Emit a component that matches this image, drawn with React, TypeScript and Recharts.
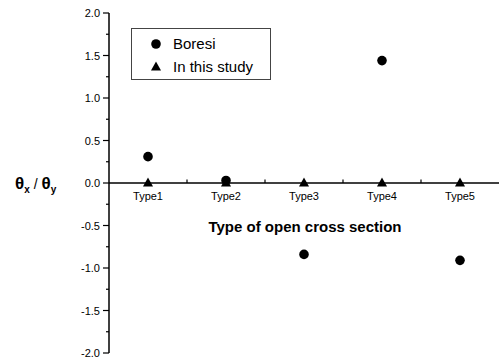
import {
  ScatterChart,
  Scatter,
  XAxis,
  YAxis,
  ReferenceLine,
  Legend,
  LabelList,
} from 'recharts';

const categories = ['Type1', 'Type2', 'Type3', 'Type4', 'Type5'];
const boresiValues = [0.31, 0.03, -0.84, 1.44, -0.91];
const studyValues = [0, 0, 0, 0, 0];
const yTicks = [-2, -1.75, -1.5, -1.25, -1, -0.75, -0.5, -0.25, 0, 0.25, 0.5, 0.75, 1, 1.25, 1.5, 1.75, 2];
const xMinorTicks = [1.5, 2.5, 3.5, 4.5];

const FONT = '"Liberation Sans", Arial, Helvetica, sans-serif';

const boresiData = categories.map((name, i) => ({ x: i + 1, y: boresiValues[i], name }));
const studyData = categories.map((name, i) => ({ x: i + 1, y: studyValues[i], name }));

const CircleShape = (props: any) => <circle cx={props.cx} cy={props.cy} r={4.8} fill="#000" />;

const TriangleShape = (props: any) => {
  const { cx, cy } = props;
  return <polygon points={`${cx},${cy - 5.5} ${cx - 5},${cy + 3.5} ${cx + 5},${cy + 3.5}`} fill="#000" />;
};

const YTick = (props: any) => {
  const { x, y, payload } = props;
  const axisX = x + 9;
  const major = Math.abs(payload.value * 2 - Math.round(payload.value * 2)) < 1e-6;
  return (
    <g>
      <line x1={axisX - (major ? 6 : 3)} x2={axisX} y1={y} y2={y} stroke="#000" strokeWidth={1.2} />
      {major && (
        <text x={x} y={y} dy={4} textAnchor="end" fontSize={11} fontFamily={FONT} fill="#000">
          {payload.value.toFixed(1)}
        </text>
      )}
    </g>
  );
};

const CategoryLabel = (props: any) => {
  const vb = props.viewBox ?? props;
  const cx = vb.x + (vb.width ?? 0) / 2;
  const cy = vb.y + (vb.height ?? 0) / 2;
  return (
    <text x={cx} y={cy + 17} textAnchor="middle" fontSize={11} fontFamily={FONT} fill="#000">
      {props.value}
    </text>
  );
};

const YLabel = (props: any) => {
  const vb = props.viewBox;
  const y = vb.y + vb.height / 2 + 6;
  return (
    <text x={15} y={y} fontFamily={FONT} fontWeight="bold" fill="#000">
      <tspan fontSize={17}>θ</tspan>
      <tspan fontSize={10} dy={4}>x</tspan>
      <tspan fontSize={14} fontWeight="normal" dy={-4}> / </tspan>
      <tspan fontSize={17}>θ</tspan>
      <tspan fontSize={10} dy={4}>y</tspan>
    </text>
  );
};

const XTitle = (props: any) => {
  const vb = props.viewBox;
  return (
    <text
      x={vb.x + vb.width / 2 + 1}
      y={vb.y + 49}
      textAnchor="middle"
      fontSize={15}
      fontWeight="bold"
      fontFamily={FONT}
      fill="#000"
    >
      Type of open cross section
    </text>
  );
};

const LegendBox = (props: any) => {
  const items = props.payload ?? [];
  return (
    <div
      style={{
        border: '1px solid #444',
        width: 140,
        height: 52,
        boxSizing: 'border-box',
        padding: '3px 0 0 18px',
        fontFamily: FONT,
        fontSize: 15,
        color: '#000',
        background: '#fff',
      }}
    >
      {items.map((item: any) => (
        <div key={item.value} style={{ display: 'flex', alignItems: 'center', height: 23 }}>
          <svg width={14} height={14} style={{ marginRight: 9 }}>
            {item.value === 'Boresi' ? (
              <circle cx={6} cy={7} r={4.8} fill="#000" />
            ) : (
              <polygon points="6,1.5 1,10.5 11,10.5" fill="#000" />
            )}
          </svg>
          <span>{item.value}</span>
        </div>
      ))}
    </div>
  );
};

export default function App() {
  return (
    <div style={{ position: 'absolute', left: 0, top: 0, background: '#fff' }}>
      <ScatterChart width={499} height={363} margin={{ top: 13, right: 0, bottom: 10, left: 0 }}>
        <XAxis type="number" dataKey="x" domain={[0.5, 5.5]} hide />
        <YAxis
          type="number"
          dataKey="y"
          domain={[-2, 2]}
          ticks={yTicks}
          interval={0}
          width={109}
          tickSize={6}
          tickMargin={3}
          tickLine={false}
          tick={<YTick />}
          axisLine={{ stroke: '#000', strokeWidth: 1.5 }}
          label={{ content: <YLabel /> }}
        />
        <ReferenceLine y={0} stroke="#000" strokeWidth={1.5} label={{ content: <XTitle /> }} />
        {xMinorTicks.map((t) => (
          <ReferenceLine
            key={t}
            segment={[
              { x: t, y: 0 },
              { x: t, y: 0.04 },
            ]}
            stroke="#000"
            strokeWidth={1.2}
          />
        ))}
        <Legend
          layout="vertical"
          verticalAlign="middle"
          align="center"
          content={<LegendBox />}
          wrapperStyle={{ top: 28, left: 131, width: 140, height: 52 }}
        />
        <Scatter name="Boresi" data={boresiData} shape={<CircleShape />} isAnimationActive={false} />
        <Scatter name="In this study" data={studyData} shape={<TriangleShape />} isAnimationActive={false}>
          <LabelList dataKey="name" content={<CategoryLabel />} />
        </Scatter>
      </ScatterChart>
    </div>
  );
}
